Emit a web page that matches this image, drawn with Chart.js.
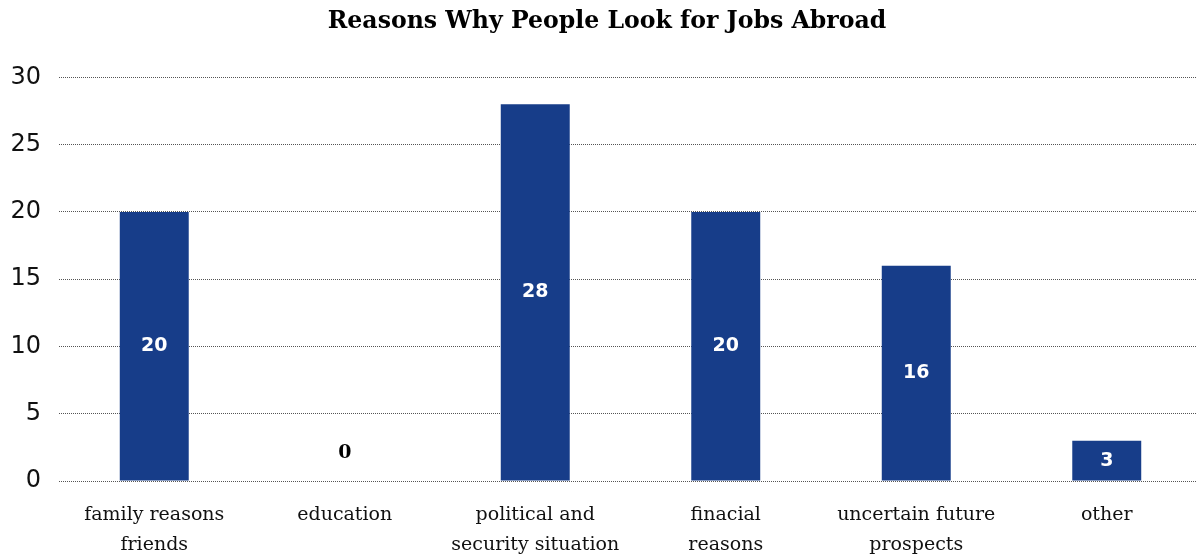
<!DOCTYPE html>
<html>
<head>
<meta charset="utf-8">
<script src="https://cdn.jsdelivr.net/npm/chart.js@4"></script>
<style>
  html, body { margin: 0; padding: 0; background: #fff; overflow: hidden; }
  #wrap { width: 1202px; height: 558px; }
</style>
</head>
<body>
<div id="wrap"><canvas id="jobs"></canvas></div>
<script>
// data
var categories = [
    ["family reasons", "friends"],
    "education",
    ["political and", "security situation"],
    ["finacial", "reasons"],
    ["uncertain future", "prospects"],
    "other"
];
var counts = [20, 0, 28, 20, 16, 3];
var yTicks = [0, 5, 10, 15, 20, 25, 30];

// value labels in the middle of each bar, zero gets drawn just above the baseline
var barValues = {
    id: 'barValues',
    afterDatasetsDraw: function (chart) {
        var ctx = chart.ctx;
        var meta = chart.getDatasetMeta(0);
        ctx.save();
        ctx.textAlign = 'center';
        ctx.textBaseline = 'middle';
        meta.data.forEach(function (bar, i) {
            var v = counts[i];
            if (v === 0) {
                ctx.fillStyle = '#000';
                ctx.font = 'bold 19px "DejaVu Serif"';
                ctx.fillText(String(v), bar.x, bar.base - 28);
            } else {
                ctx.fillStyle = '#fff';
                ctx.font = 'bold 19px "DejaVu Sans"';
                ctx.fillText(String(v), bar.x, (bar.y + bar.base) / 2);
            }
        });
        ctx.restore();
    }
};

var ctx = document.getElementById('jobs').getContext('2d');
var chart = new Chart(ctx, {
    type: 'bar',
    data: {
        labels: categories,
        datasets: [{
            label: 'Reasons',
            data: counts,
            backgroundColor: '#173d89',
            barPercentage: 0.362,
            categoryPercentage: 1
        }]
    },
    options: {
        responsive: true,
        maintainAspectRatio: false,
        animation: false,
        layout: { padding: { left: 12, right: 0, top: 0, bottom: 0 } },
        plugins: {
            legend: { display: false },
            tooltip: { enabled: false },
            title: {
                display: true,
                text: 'Reasons Why People Look for Jobs Abroad',
                color: '#000',
                font: { family: '"DejaVu Serif"', size: 23.6, weight: 'bold', lineHeight: 1.2 },
                padding: { top: 8, bottom: 41 }
            }
        },
        scales: {
            x: {
                grid: { display: false, drawTicks: false },
                border: { display: false },
                ticks: {
                    color: '#111',
                    font: { family: '"DejaVu Serif"', size: 19, lineHeight: 1.53 },
                    padding: 20,
                    maxRotation: 0,
                    autoSkip: false
                },
                // keep the axis band fixed and stop the wide first label pushing the plot
                afterFit: function (s) {
                    s.paddingLeft = 0;
                    s.paddingRight = 0;
                    s.height = 77;
                }
            },
            y: {
                min: 0,
                max: 30,
                afterBuildTicks: function (axis) {
                    axis.ticks = yTicks.map(function (v) { return { value: v }; });
                },
                grid: {
                    color: '#555',
                    lineWidth: 1,
                    drawTicks: false
                },
                border: { display: false, dash: [1, 1] },
                ticks: {
                    color: '#111',
                    font: { family: '"DejaVu Sans"', size: 24 },
                    padding: 18
                },
                afterFit: function (s) { s.width = 47; }
            }
        }
    },
    plugins: [barValues]
});
</script>
</body>
</html>
